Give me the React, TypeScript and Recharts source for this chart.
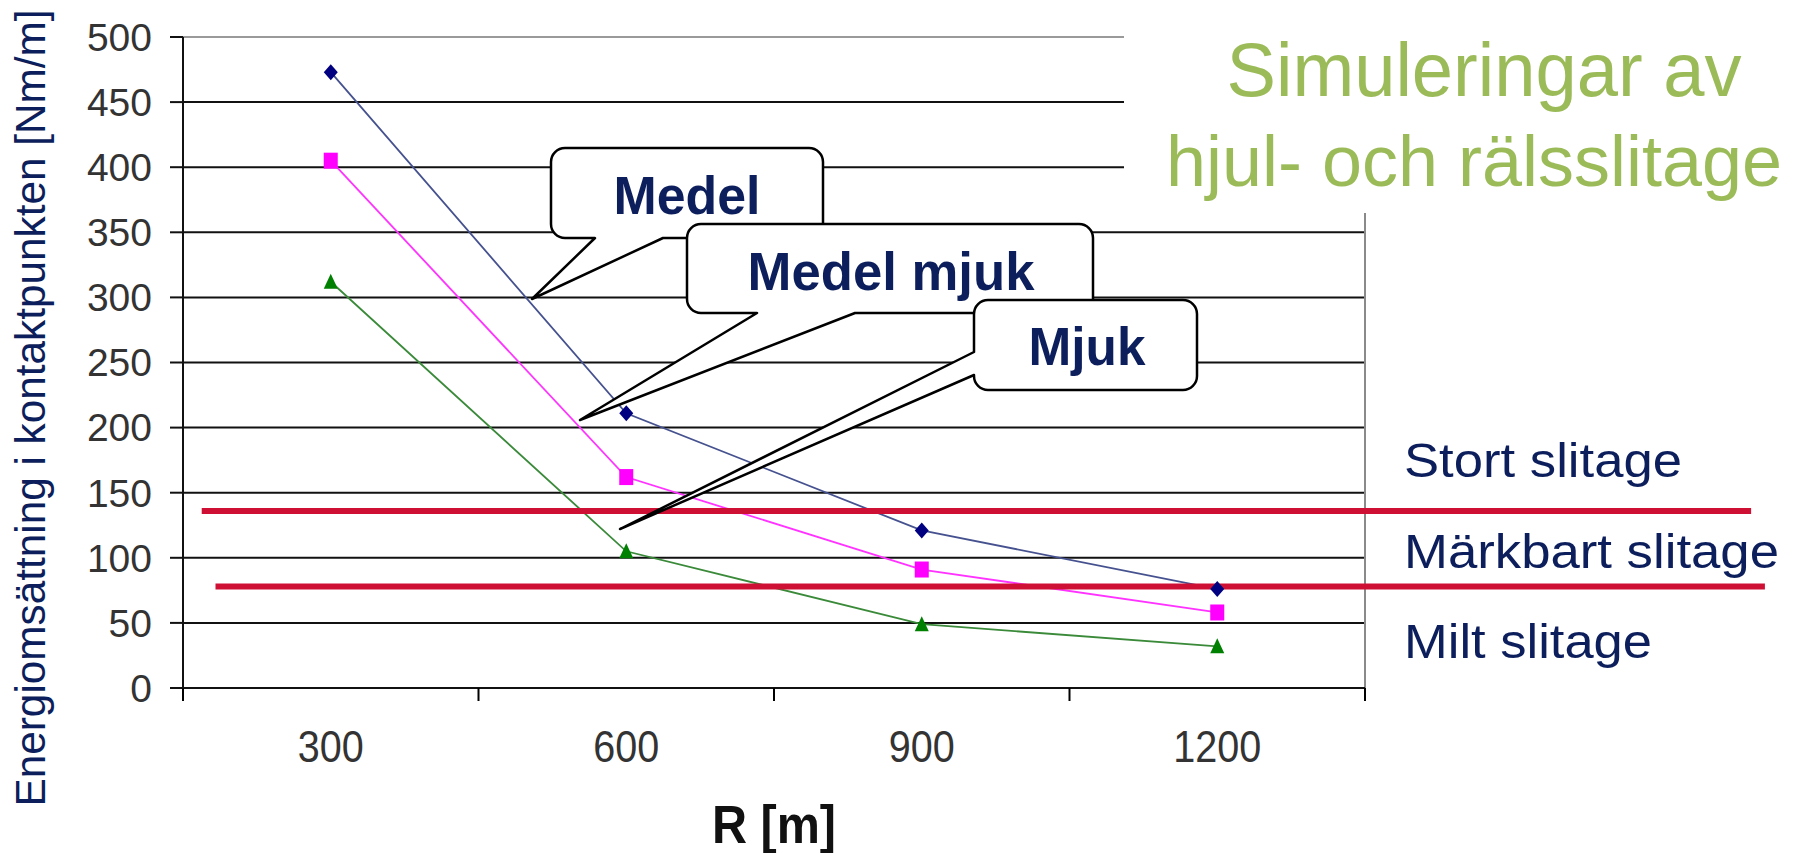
import { LineChart, Line, XAxis, YAxis, CartesianGrid, ReferenceLine } from 'recharts'

// radius categories (m) and energy dissipation per design [Nm/m]
const radii = [300, 600, 900, 1200]
const medel = [473, 211, 121, 76]
const medelMjuk = [405, 162, 91, 58]
const mjuk = [312, 105, 49, 32]

const yTicks = [0, 50, 100, 150, 200, 250, 300, 350, 400, 450, 500]
const gridValues = [50, 100, 150, 200, 250, 300, 350, 400, 450]
const xBounds = [150, 450, 750, 1050, 1350]
const xTicks = [150, 300, 450, 600, 750, 900, 1050, 1200, 1350]

// wear limits (red lines), in data units
const wearLimits = [136, 78]
const limitStarts = [169, 183]
const limitEnds = [1742, 1756]

const wearLabels = ['Stort slitage', 'Märkbart slitage', 'Milt slitage']
const calloutLabels = ['Medel', 'Medel mjuk', 'Mjuk']
const titleLines = ['Simuleringar av', 'hjul- och rälsslitage']

const FONT = '"Liberation Sans", Arial, sans-serif'
const NAVY = '#0c1e5b'
const RED = '#cf1035'

const data = radii.map((r, i) => ({ r, medel: medel[i], medelMjuk: medelMjuk[i], mjuk: mjuk[i] }))

function XTick(props: any) {
  const { x, y, payload } = props
  const v = payload.value
  if (xBounds.includes(v)) {
    return <line x1={x} x2={x} y1={y} y2={y + 13} stroke="#000" strokeWidth={2} />
  }
  const label = String(v)
  return (
    <text x={x} y={y + 74} textAnchor="middle" fontSize={44} fontFamily={FONT} fill="#333"
      textLength={label.length * 22} lengthAdjust="spacingAndGlyphs">
      {label}
    </text>
  )
}

const Diamond = (p: any) => {
  const { cx, cy } = p
  if (cx == null || cy == null) return <g />
  return <polygon points={`${cx},${cy - 8} ${cx + 7},${cy} ${cx},${cy + 8} ${cx - 7},${cy}`} fill="#000080" />
}
const Square = (p: any) => {
  const { cx, cy } = p
  if (cx == null || cy == null) return <g />
  return <rect x={cx - 7} y={cy - 8} width={14} height={16} fill="#ff00ff" />
}
const Triangle = (p: any) => {
  const { cx, cy } = p
  if (cx == null || cy == null) return <g />
  return <polygon points={`${cx},${cy - 8} ${cx + 7},${cy + 7} ${cx - 7},${cy + 7}`} fill="#008000" />
}

type Box = { x1: number; y1: number; x2: number; y2: number }

function calloutPath(b: Box, side: 'bottom' | 'left', a: number, c: number, tip: [number, number], r = 14) {
  const { x1, y1, x2, y2 } = b
  let d = `M${x1 + r},${y1} H${x2 - r} A${r},${r} 0 0 1 ${x2},${y1 + r} V${y2 - r} A${r},${r} 0 0 1 ${x2 - r},${y2}`
  if (side === 'bottom') {
    d += ` H${c} L${tip[0]},${tip[1]} L${a},${y2} H${x1 + r} A${r},${r} 0 0 1 ${x1},${y2 - r} V${y1 + r}`
  } else {
    d += ` H${x1 + r} A${r},${r} 0 0 1 ${x1},${y2 - r} V${c} L${tip[0]},${tip[1]} L${x1},${a} V${y1 + r}`
  }
  d += ` A${r},${r} 0 0 1 ${x1 + r},${y1} Z`
  return d
}

const callouts = [
  { box: { x1: 551, y1: 148, x2: 823, y2: 238 }, side: 'bottom' as const, a: 595, c: 663, tip: [532, 299] as [number, number], tx: 687, ty: 214, tl: 147 },
  { box: { x1: 687, y1: 224, x2: 1093, y2: 313 }, side: 'bottom' as const, a: 757, c: 855, tip: [580, 420] as [number, number], tx: 891, ty: 290, tl: 287 },
  { box: { x1: 974, y1: 300, x2: 1197, y2: 390 }, side: 'left' as const, a: 352, c: 375, tip: [620, 529] as [number, number], tx: 1087, ty: 365, tl: 117 }
]

export default function App() {
  return (
    <div style={{ position: 'absolute', left: 0, top: 0, width: 1799, height: 853, background: '#fff' }}>
      <LineChart width={1799} height={853} data={data} margin={{ top: 37, right: 434, bottom: 0, left: 0 }}>
        <CartesianGrid vertical={false} horizontalValues={gridValues} stroke="#111" strokeWidth={2} />
        <ReferenceLine y={500} stroke="#9a9a9a" strokeWidth={2} />
        <ReferenceLine x={1350} stroke="#8a8a8a" strokeWidth={2} />
        <XAxis dataKey="r" type="number" domain={[150, 1350]} ticks={xTicks} interval={0}
          height={165} tickSize={0} tickMargin={0} tickLine={false} tick={<XTick />}
          axisLine={{ stroke: '#111', strokeWidth: 2 }} />
        <YAxis type="number" domain={[0, 500]} ticks={yTicks} interval={0} width={183}
          tickSize={13} tickMargin={18}
          tick={{ fill: '#333', fontSize: 39, fontFamily: FONT }}
          tickLine={{ stroke: '#111', strokeWidth: 2 }}
          axisLine={{ stroke: '#111', strokeWidth: 2 }} />
        <Line dataKey="medel" stroke="#46528f" strokeWidth={1.8} dot={Diamond} isAnimationActive={false} />
        <Line dataKey="medelMjuk" stroke="#ff33ff" strokeWidth={1.8} dot={Square} isAnimationActive={false} />
        <Line dataKey="mjuk" stroke="#3a8a3a" strokeWidth={1.8} dot={Triangle} isAnimationActive={false} />
        {wearLimits.map((v, i) => (
          <ReferenceLine key={i} ifOverflow="visible" stroke={RED} strokeWidth={6}
            segment={[{ x: limitStarts[i], y: v }, { x: limitEnds[i], y: v }]} />
        ))}
      </LineChart>

      <svg width={1799} height={853} style={{ position: 'absolute', left: 0, top: 0, pointerEvents: 'none' }}>
        {/* title panel covers upper right of the plot */}
        <rect x={1124} y={0} width={675} height={213} fill="#fff" />
        <text x={1484} y={96} textAnchor="middle" fontSize={76} fontFamily={FONT} fill="#9bbb59"
          textLength={515} lengthAdjust="spacingAndGlyphs">{titleLines[0]}</text>
        <text x={1474} y={186} textAnchor="middle" fontSize={73} fontFamily={FONT} fill="#9bbb59"
          textLength={616} lengthAdjust="spacingAndGlyphs">{titleLines[1]}</text>

        <text x={1404} y={477} fontSize={49} fontFamily={FONT} fill={NAVY} textLength={278} lengthAdjust="spacingAndGlyphs">{wearLabels[0]}</text>
        <text x={1404} y={568} fontSize={49} fontFamily={FONT} fill={NAVY} textLength={375} lengthAdjust="spacingAndGlyphs">{wearLabels[1]}</text>
        <text x={1404} y={658} fontSize={49} fontFamily={FONT} fill={NAVY} textLength={248} lengthAdjust="spacingAndGlyphs">{wearLabels[2]}</text>

        <text x={45} y={408} transform="rotate(-90 45 408)" textAnchor="middle" fontSize={42} fontFamily={FONT} fill={NAVY}
          textLength={797} lengthAdjust="spacingAndGlyphs">Energiomsättning i kontaktpunkten [Nm/m]</text>
        <text x={774} y={843} textAnchor="middle" fontSize={53} fontWeight="bold" fontFamily={FONT} fill="#111"
          textLength={124} lengthAdjust="spacingAndGlyphs">R [m]</text>

        {callouts.map((c, i) => (
          <g key={i}>
            <path d={calloutPath(c.box, c.side, c.a, c.c, c.tip)} fill="#fff" stroke="#000" strokeWidth={2.5} strokeLinejoin="round" />
            <text x={c.tx} y={c.ty} textAnchor="middle" fontSize={53} fontWeight="bold" fontFamily={FONT} fill={NAVY}
              textLength={c.tl} lengthAdjust="spacingAndGlyphs">{calloutLabels[i]}</text>
          </g>
        ))}
      </svg>
    </div>
  )
}
